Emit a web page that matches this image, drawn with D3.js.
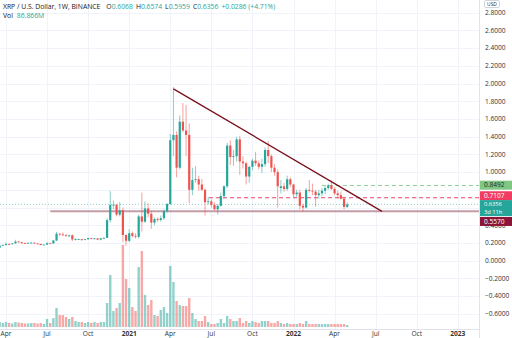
<!DOCTYPE html>
<html><head><meta charset="utf-8">
<script src="https://cdn.jsdelivr.net/npm/d3@7"></script>
<style>
html,body{margin:0;padding:0;background:#fff;}
svg{display:block;font-family:"Open Sans","Noto Sans",sans-serif;}
</style></head><body>
<svg id="c" width="512" height="338"></svg>
<script>
// ---- DATA ----
const weeks = [
 "2020-03-23","2020-03-30","2020-04-06","2020-04-13","2020-04-20","2020-04-27","2020-05-04","2020-05-11","2020-05-18","2020-05-25",
 "2020-06-01","2020-06-08","2020-06-15","2020-06-22","2020-06-29","2020-07-06","2020-07-13","2020-07-20","2020-07-27","2020-08-03",
 "2020-08-10","2020-08-17","2020-08-24","2020-08-31","2020-09-07","2020-09-14","2020-09-21","2020-09-28","2020-10-05","2020-10-12",
 "2020-10-19","2020-10-26","2020-11-02","2020-11-09","2020-11-16","2020-11-23","2020-11-30","2020-12-07","2020-12-14","2020-12-21",
 "2020-12-28",
 "2021-01-04","2021-01-11","2021-01-18","2021-01-25","2021-02-01","2021-02-08","2021-02-15","2021-02-22","2021-03-01","2021-03-08",
 "2021-03-15","2021-03-22","2021-03-29","2021-04-05","2021-04-12","2021-04-19","2021-04-26","2021-05-03","2021-05-10","2021-05-17",
 "2021-05-24","2021-05-31","2021-06-07","2021-06-14","2021-06-21","2021-06-28","2021-07-05","2021-07-12","2021-07-19","2021-07-26",
 "2021-08-02","2021-08-09","2021-08-16","2021-08-23","2021-08-30","2021-09-06","2021-09-13","2021-09-20","2021-09-27","2021-10-04",
 "2021-10-11","2021-10-18","2021-10-25","2021-11-01","2021-11-08","2021-11-15","2021-11-22","2021-11-29","2021-12-06","2021-12-13",
 "2021-12-20","2021-12-27",
 "2022-01-03","2022-01-10","2022-01-17","2022-01-24","2022-01-31","2022-02-07","2022-02-14","2022-02-21","2022-02-28","2022-03-07",
 "2022-03-14","2022-03-21","2022-03-28","2022-04-04","2022-04-11","2022-04-18","2022-04-25","2022-05-02"
];
const open = [
 0.146,0.171,0.176,0.188,0.187,0.196,0.216,0.209,0.199,0.195,
 0.201,0.203,0.195,0.189,0.177,0.181,0.197,0.195,0.228,0.305,
 0.297,0.291,0.284,0.286,0.240,0.243,0.245,0.236,0.242,0.255,
 0.245,0.252,0.238,0.253,0.258,0.458,0.630,0.632,0.520,0.570,
 0.290,
 0.225,0.310,0.280,0.270,0.500,0.440,0.590,0.530,0.430,0.470,
 0.460,0.480,0.560,0.640,1.360,1.420,1.050,1.570,1.470,1.420,
 0.800,0.910,0.920,0.860,0.800,0.660,0.670,0.630,0.580,0.620,
 0.730,0.840,1.300,1.170,1.180,1.370,1.120,1.100,0.950,1.060,
 1.130,1.100,1.060,1.090,1.250,1.180,1.050,1.000,0.820,0.840,
 0.810,0.920,
 0.860,0.750,0.770,0.620,0.600,0.800,0.790,0.780,0.740,0.760,
 0.790,0.820,0.850,0.810,0.760,0.740,0.700,0.6068
];
const high = [
 0.178,0.182,0.208,0.195,0.198,0.236,0.224,0.211,0.206,0.206,
 0.213,0.206,0.196,0.190,0.182,0.208,0.203,0.232,0.326,0.312,
 0.320,0.299,0.293,0.298,0.253,0.248,0.246,0.245,0.260,0.258,
 0.257,0.255,0.256,0.262,0.480,0.785,0.680,0.640,0.660,0.600,
 0.300,
 0.355,0.330,0.310,0.520,0.770,0.670,0.650,0.560,0.490,0.490,
 0.510,0.580,0.650,1.430,1.960,1.460,1.640,1.780,1.760,1.550,
 1.050,1.070,0.960,0.920,0.820,0.720,0.690,0.660,0.640,0.770,
 0.850,1.330,1.360,1.250,1.400,1.410,1.180,1.120,1.070,1.150,
 1.230,1.130,1.150,1.280,1.350,1.200,1.090,1.030,0.910,0.880,
 0.960,0.940,
 0.870,0.800,0.800,0.640,0.820,0.910,0.870,0.800,0.800,0.820,
 0.840,0.870,0.910,0.830,0.790,0.780,0.720,0.6574
];
const low = [
 0.141,0.166,0.175,0.176,0.182,0.193,0.205,0.186,0.192,0.193,
 0.199,0.192,0.184,0.174,0.172,0.180,0.193,0.194,0.222,0.280,
 0.280,0.270,0.266,0.222,0.228,0.236,0.223,0.232,0.236,0.240,
 0.240,0.232,0.230,0.242,0.256,0.430,0.580,0.500,0.500,0.210,
 0.170,
 0.210,0.260,0.250,0.250,0.330,0.430,0.490,0.360,0.400,0.440,
 0.440,0.460,0.540,0.630,1.180,0.940,1.030,1.450,1.180,0.650,
 0.740,0.880,0.790,0.790,0.510,0.630,0.600,0.570,0.520,0.610,
 0.700,0.820,1.080,1.070,1.120,0.970,1.040,0.860,0.880,1.020,
 1.070,1.030,0.990,1.060,1.100,1.000,0.960,0.600,0.760,0.780,
 0.790,0.830,
 0.720,0.720,0.580,0.550,0.590,0.770,0.740,0.610,0.700,0.730,
 0.750,0.800,0.800,0.740,0.700,0.690,0.580,0.5959
];
const close = [
 0.171,0.176,0.188,0.187,0.196,0.216,0.209,0.199,0.195,0.201,
 0.203,0.195,0.189,0.177,0.181,0.197,0.195,0.228,0.305,0.297,
 0.291,0.284,0.286,0.240,0.243,0.245,0.236,0.242,0.255,0.245,
 0.252,0.238,0.253,0.258,0.458,0.630,0.632,0.520,0.570,0.290,
 0.225,
 0.310,0.280,0.270,0.500,0.440,0.590,0.530,0.430,0.470,0.460,
 0.480,0.560,0.640,1.360,1.420,1.050,1.570,1.470,1.420,0.800,
 0.910,0.920,0.860,0.800,0.660,0.670,0.630,0.580,0.620,0.730,
 0.840,1.300,1.170,1.180,1.370,1.120,1.100,0.950,1.060,1.130,
 1.100,1.060,1.090,1.250,1.180,1.050,1.000,0.840,0.840,0.810,
 0.920,0.860,
 0.750,0.770,0.620,0.600,0.800,0.790,0.780,0.740,0.760,0.790,
 0.820,0.850,0.810,0.760,0.740,0.700,0.607,0.6356
];
// weekly volume, millions
const volume = [
 220,176,220,176,154,220,198,176,154,154,
 176,176,154,176,132,352,176,396,836,528,
 528,440,352,440,264,220,220,176,220,176,
 220,176,220,220,1056,2288,704,836,1056,3608,
 2112,
 1716,880,704,2640,3344,1408,968,1188,528,484,
 748,880,616,2684,1980,1144,968,924,924,1276,
 616,352,264,264,484,220,132,132,176,352,
 176,484,352,264,264,396,176,264,176,264,
 220,176,264,264,264,176,176,264,176,132,
 176,132,
 132,132,176,132,264,132,132,132,132,132,
 132,132,132,132,132,132,132,86.866
];
const priceTicks = [-0.6,-0.4,-0.2,0,0.2,0.4,0.6,0.8,1.0,1.2,1.4,1.6,1.8,2.0,2.2,2.4,2.6,2.8];
const hiddenTicks = [0.6,0.8];   // covered by the price tags in the reference
const timeTickDates = ["2020-04-06","2020-07-06","2020-10-05","2021-01-04","2021-04-05","2021-07-05","2021-10-04","2022-01-03","2022-04-04","2022-07-04","2022-10-03","2023-01-02"];
const timeTickLabels = ["Apr","Jul","Oct","2021","Apr","Jul","Oct","2022","Apr","Jul","Oct","2023"];
// drawings
const trendLine = [{d:"2021-04-12", p:1.94},{d:"2022-07-18", p:0.557}];
const supportLevel = {from:"2020-07-13", p:0.5570};
const redLevel = {from:"2021-06-30", p:0.7107};
const greenLevel = {from:"2022-03-07", p:0.8492};
const lastPrice = 0.6356;
const countdown = "3d 11h";
const header = {title:"XRP / U.S. Dollar, 1W, BINANCE", o:"0.6068", h:"0.6574", l:"0.5959", c:"0.6356", chg:"+0.0286 (+4.71%)", vol:"86.866M"};

// ---- CHART ----
const parse = d3.utcParse("%Y-%m-%d");
const svg = d3.select("#c");
const W = 512, H = 338, plotR = 479, axisB = 329;
const UP = "#26a69a", DN = "#ef5350";

const x = d3.scaleUtc().domain([parse("2021-01-04"), parse("2022-01-03")]).range([129.2, 293.5]);
const y = d3.scaleLinear().domain([0, 2.8]).range([260.7, 12.7]);
const yv = d3.scaleLinear().domain([0, d3.max(volume)]).range([327, 245]);

const bars = weeks.map((w,i)=>({d:parse(w),o:open[i],h:high[i],l:low[i],c:close[i],v:volume[i]}));

const plot = svg.append("g");
plot.append("clipPath").attr("id","clip").append("rect").attr("x",0).attr("y",0).attr("width",plotR).attr("height",axisB);
const g = plot.append("g").attr("clip-path","url(#clip)");

// grid
g.append("g").selectAll("line").data(priceTicks).join("line")
 .attr("x1",0).attr("x2",plotR).attr("y1",d=>Math.round(y(d))+0.5).attr("y2",d=>Math.round(y(d))+0.5)
 .attr("stroke","#f0f3fa").attr("stroke-width",1);
g.append("g").selectAll("line").data(timeTickDates).join("line")
 .attr("y1",0).attr("y2",axisB).attr("x1",d=>Math.round(x(parse(d)))+0.5).attr("x2",d=>Math.round(x(parse(d)))+0.5)
 .attr("stroke","#f0f3fa").attr("stroke-width",1);

// volume
g.append("g").selectAll("rect").data(bars).join("rect")
 .attr("x",d=>x(d.d)-1.2).attr("width",2.4)
 .attr("y",d=>yv(d.v)).attr("height",d=>yv(0)-yv(d.v))
 .attr("fill",d=>d.c>=d.o?UP:DN).attr("fill-opacity",0.5);

// horizontal levels
g.append("line").attr("x1",x(parse(supportLevel.from))).attr("x2",plotR)
 .attr("y1",y(supportLevel.p)).attr("y2",y(supportLevel.p))
 .attr("stroke","#9c5a6e").attr("stroke-opacity",0.6).attr("stroke-width",2);
g.append("line").attr("x1",0).attr("x2",plotR).attr("y1",y(lastPrice)).attr("y2",y(lastPrice))
 .attr("stroke",UP).attr("stroke-opacity",0.5).attr("stroke-dasharray","1,2").attr("stroke-width",1);
g.append("line").attr("x1",x(parse(redLevel.from))).attr("x2",plotR).attr("y1",y(redLevel.p)).attr("y2",y(redLevel.p))
 .attr("stroke","#e8436a").attr("stroke-dasharray","4,3").attr("stroke-width",1);
g.append("line").attr("x1",x(parse(greenLevel.from))).attr("x2",plotR).attr("y1",y(greenLevel.p)).attr("y2",y(greenLevel.p))
 .attr("stroke","#8fd19a").attr("stroke-dasharray","4,3").attr("stroke-width",1.2);

// candles
const cg = g.append("g");
cg.selectAll("line").data(bars).join("line")
 .attr("x1",d=>x(d.d)).attr("x2",d=>x(d.d)).attr("y1",d=>y(d.h)).attr("y2",d=>y(d.l))
 .attr("stroke",d=>d.c>=d.o?UP:DN).attr("stroke-opacity",0.55).attr("stroke-width",1);
cg.selectAll("rect").data(bars).join("rect")
 .attr("x",d=>x(d.d)-1.1).attr("width",2.2)
 .attr("y",d=>y(Math.max(d.o,d.c))).attr("height",d=>Math.max(0.8,Math.abs(y(d.o)-y(d.c))))
 .attr("fill",d=>d.c>=d.o?UP:DN);

// trend line
g.append("line").attr("x1",x(parse(trendLine[0].d))).attr("y1",y(trendLine[0].p))
 .attr("x2",x(parse(trendLine[1].d))).attr("y2",y(trendLine[1].p))
 .attr("stroke","#7a0f1c").attr("stroke-width",1.3);

// axes borders
svg.append("line").attr("x1",plotR+0.5).attr("x2",plotR+0.5).attr("y1",0).attr("y2",H).attr("stroke","#e0e3eb");
svg.append("line").attr("x1",0).attr("x2",plotR).attr("y1",axisB+0.5).attr("y2",axisB+0.5).attr("stroke","#e0e3eb");

// price labels
const fmt = v => (v<0?"\u2212":"") + d3.format(".4f")(Math.abs(v));
svg.append("g").selectAll("text").data(priceTicks.filter(v=>!hiddenTicks.includes(v))).join("text")
 .attr("x",485).attr("y",d=>y(d)).attr("dy","0.35em")
 .attr("font-size",6.6).attr("fill","#333").text(fmt);

// time labels
svg.append("g").selectAll("text").data(timeTickDates).join("text")
 .attr("x",d=>x(parse(d))).attr("y",334).attr("dy","0.35em").attr("text-anchor","middle")
 .attr("font-size",6.6).attr("fill","#333")
 .attr("font-weight",(d,i)=>/^\d/.test(timeTickLabels[i])?700:400)
 .text((d,i)=>timeTickLabels[i]);

// USD box
svg.append("rect").attr("x",484.5).attr("y",0.5).attr("width",15).attr("height",7).attr("rx",1.5)
 .attr("fill","#fff").attr("stroke","#d1d4dc");
svg.append("text").attr("x",492).attr("y",4.2).attr("dy","0.35em").attr("text-anchor","middle")
 .attr("font-size",5).attr("fill","#333").text("USD");

// price boxes
function box(y0,h,bg,lines,col,fs,step){
 svg.append("rect").attr("x",480).attr("y",y0).attr("width",32).attr("height",h).attr("fill",bg);
 lines.forEach((t,i)=>svg.append("text").attr("x",484).attr("y",y0+4.3+i*step).attr("dy","0.35em")
  .attr("font-size",fs).attr("fill",col).text(t));
}
box(y(greenLevel.p)-4.8, 9, "#81c784", [d3.format(".4f")(greenLevel.p)], "#1e2a1e", 6.6, 0);
box(y(redLevel.p)-6.5, 9, "#f23d63", [d3.format(".4f")(redLevel.p)], "#fff", 6.6, 0);
box(y(lastPrice)-4.3, 16, UP, [d3.format(".4f")(lastPrice), countdown], "#fff", 5.7, 7.9);
box(y(supportLevel.p)+5.6, 9, "#8a1538", [d3.format(".4f")(supportLevel.p)], "#fff", 6.6, 0);

// header
const t1 = svg.append("text").attr("x",3).attr("y",7).attr("dy","0.35em").attr("font-size",6.8).attr("fill","#131722");
t1.append("tspan").text(header.title);
[["O",header.o],["H",header.h],["L",header.l],["C",header.c]].forEach(([k,v],i)=>{
 t1.append("tspan").attr("dx",i===0?6:3).text(k);
 t1.append("tspan").attr("fill",UP).text(v);
});
t1.append("tspan").attr("dx",3).attr("fill",UP).text(header.chg);
const t2 = svg.append("text").attr("x",3).attr("y",15.5).attr("dy","0.35em").attr("font-size",6.8).attr("fill","#131722");
t2.append("tspan").text("Vol");
t2.append("tspan").attr("dx",4).attr("fill",UP).text(header.vol);
</script>
</body></html>
